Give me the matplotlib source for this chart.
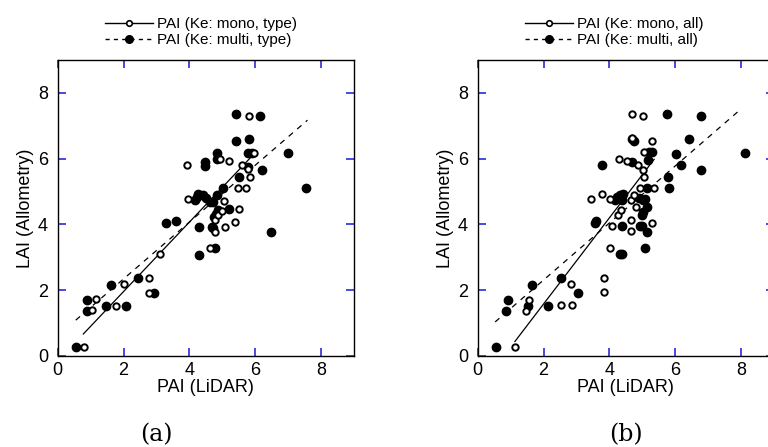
import numpy as np
import matplotlib
matplotlib.use("Agg")
import matplotlib.pyplot as plt
from matplotlib.lines import Line2D

plt.rcParams['font.family'] = ['Liberation Sans', 'DejaVu Sans']

# panel (a): Ke per type
mono_a_x = [0.79, 1.03, 1.15, 1.78, 2.02, 2.76, 2.76, 3.12, 3.92, 3.95, 4.63, 4.78, 4.78, 4.86,
            4.98, 5.06, 5.08, 5.40, 5.51, 4.93, 5.21, 5.60, 5.79, 5.84, 5.49, 5.72, 5.80, 5.97]
mono_a_y = [0.28, 1.40, 1.72, 1.53, 2.18, 2.37, 1.93, 3.09, 5.80, 4.76, 3.27, 3.78, 4.13, 4.28,
            4.41, 4.71, 3.93, 4.08, 4.48, 5.99, 5.92, 5.80, 5.68, 5.45, 5.12, 5.12, 7.29, 6.17]
multi_a_x = [0.56, 0.88, 0.88, 1.47, 1.62, 2.07, 2.45, 2.94, 3.29, 3.60, 4.17, 4.22, 4.27, 4.42,
             4.52, 4.62, 4.72, 4.83, 4.30, 4.30, 4.68, 4.73, 4.76, 4.80, 4.86, 4.78, 4.47, 4.47,
             4.83, 4.85, 5.03, 5.21, 5.41, 5.42, 5.51, 5.79, 5.80, 5.79, 5.89, 6.16, 6.21, 6.47,
             7.00, 7.53]
multi_a_y = [0.26, 1.70, 1.38, 1.53, 2.17, 1.53, 2.36, 1.92, 4.05, 4.12, 4.74, 4.84, 4.94, 4.89,
             4.79, 4.69, 4.69, 4.89, 3.07, 3.93, 3.93, 3.88, 4.23, 4.33, 4.43, 3.27, 5.90, 5.77,
             5.98, 6.18, 5.11, 4.48, 6.53, 7.37, 5.45, 5.75, 6.61, 6.16, 6.16, 7.29, 5.67, 3.78,
             6.18, 5.11]

# panel (b): Ke for all
mono_b_x = [1.13, 1.46, 1.57, 2.52, 2.88, 2.83, 3.85, 3.85, 3.43, 3.79, 4.02, 4.02, 4.09, 4.26,
            4.35, 4.29, 4.55, 4.65, 4.65, 4.66, 4.76, 4.80, 4.69, 4.68, 5.01, 4.87, 5.03, 5.06,
            5.06, 4.93, 5.29, 5.35, 5.29]
mono_b_y = [0.28, 1.38, 1.70, 1.55, 1.55, 2.19, 2.37, 1.94, 4.77, 4.92, 4.77, 3.29, 3.95, 4.30,
            4.45, 6.00, 5.92, 4.14, 3.79, 4.74, 4.89, 4.52, 7.37, 6.63, 7.29, 5.80, 5.67, 5.44,
            6.19, 5.12, 6.54, 5.12, 4.06]
multi_b_x = [0.56, 0.91, 0.87, 1.54, 1.66, 2.14, 2.53, 3.04, 3.55, 3.60, 3.79, 4.17, 4.22, 4.32,
             4.42, 4.37, 4.32, 4.37, 4.37, 4.69, 4.74, 4.69, 4.90, 5.02, 5.07, 4.92, 4.99, 4.98,
             5.01, 5.13, 5.07, 5.15, 5.15, 5.18, 5.21, 5.29, 5.75, 5.79, 5.82, 6.02, 6.18, 6.42,
             6.78, 6.78, 8.12]
multi_b_y = [0.28, 1.70, 1.38, 1.53, 2.16, 1.53, 2.36, 1.93, 4.05, 4.11, 5.80, 4.74, 4.84, 4.89,
             4.92, 4.74, 3.09, 3.09, 3.95, 6.61, 6.53, 5.90, 4.82, 4.74, 4.76, 3.95, 3.95, 4.29,
             4.39, 4.52, 3.27, 3.78, 5.12, 5.97, 6.19, 6.19, 7.35, 5.43, 5.12, 6.13, 5.80, 6.61,
             7.29, 5.67, 6.18]

# fitted lines: (slope, intercept, x start, x end)
fit_mono_a = (1.056, -0.154, 0.78, 6.00)
fit_multi_a = (0.864, 0.615, 0.55, 7.59)
fit_mono_b = (1.31, -1.04, 1.13, 5.36)
fit_multi_b = (0.867, 0.576, 0.53, 7.97)

ticks = [0, 2, 4, 6, 8]
tick_blue = '#2a2ae0'

fig = plt.figure(figsize=(7.68, 4.47), dpi=100)

panels = [
    (0.0751, mono_a_x, mono_a_y, multi_a_x, multi_a_y, fit_mono_a, fit_multi_a,
     'type', '(a)', 0.262, 0.204),
    (0.622, mono_b_x, mono_b_y, multi_b_x, multi_b_y, fit_mono_b, fit_multi_b,
     'all', '(b)', 0.80, 0.815),
]

dash = (0, (4.5, 4.5))

for (left, mx, my, fx, fy, fm, ff, kind, tag, leg_x, tag_x) in panels:
    ax = fig.add_axes([left, 0.2036, 0.3857, 0.662])
    ax.plot(fx, fy, 'o', color='k', ms=6, zorder=3)
    ax.plot(mx, my, 'o', mfc='white', mec='k', mew=1.4, ms=4.6, zorder=4)
    for (s, b, x0, x1), ls in ((fm, '-'), (ff, dash)):
        xs = np.array([x0, x1])
        ax.plot(xs, s * xs + b, color='k', lw=0.9, linestyle=ls, zorder=2)
    ax.set_xlim(0, 9)
    ax.set_ylim(0, 9)
    ax.set_xticks(ticks)
    ax.set_yticks(ticks)
    ax.tick_params(direction='in', length=6, width=1.2, color=tick_blue,
                   top=True, right=True, labelsize=13)
    ax.tick_params(axis='x', pad=4)
    ax.tick_params(axis='y', pad=7)
    for sp in ax.spines.values():
        sp.set_linewidth(1.0)
    ax.set_xlabel('PAI (LiDAR)', fontsize=13, labelpad=0)
    ax.set_ylabel('LAI (Allometry)', fontsize=13, labelpad=3)

    handles = [
        Line2D([], [], color='k', lw=1, marker='o', mfc='white', mec='k', mew=1.2, ms=4),
        Line2D([], [], color='k', lw=1, linestyle=(0, (3, 3)), marker='o', ms=5.5),
    ]
    labels = ['PAI (Ke: mono, %s)' % kind, 'PAI (Ke: multi, %s)' % kind]
    fig.legend(handles, labels, loc='center', bbox_to_anchor=(leg_x, 0.928),
               frameon=False, fontsize=11, handlelength=3.1, handletextpad=0.3,
               labelspacing=0.15, borderpad=0)
    fig.text(tag_x, 0.027, tag, ha='center', va='center', fontsize=17,
             family='DejaVu Serif')

fig.savefig('out.png', dpi=100)
